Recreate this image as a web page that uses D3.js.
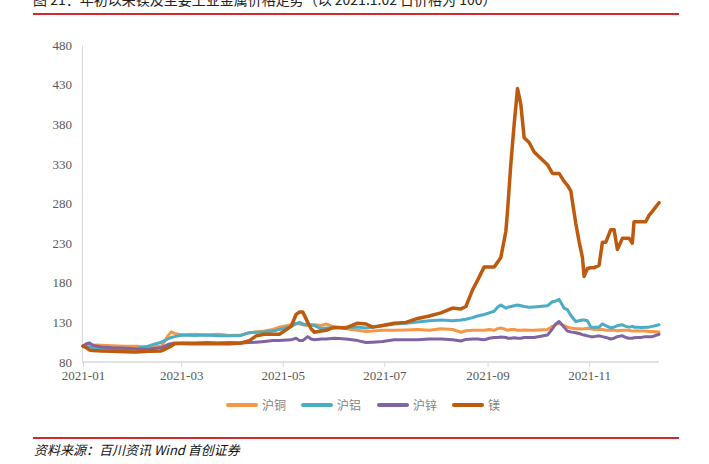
<!DOCTYPE html>
<html><head><meta charset="utf-8">
<script src="https://cdn.jsdelivr.net/npm/d3@7"></script>
<style>
html,body{margin:0;padding:0;background:#fff;}
svg{display:block;}
.ax text{font-family:'Liberation Serif','Times New Roman',serif;font-size:13px;fill:#595959;}
</style></head>
<body><svg id="chart" width="709" height="464"></svg>
<script>
const dates = ["2021-01-02","2021-01-04","2021-01-06","2021-01-08","2021-01-13","2021-01-20","2021-01-27","2021-02-03","2021-02-10","2021-02-18",
"2021-02-20","2021-02-22","2021-02-24","2021-02-26","2021-03-03","2021-03-10","2021-03-17","2021-03-24","2021-03-31","2021-04-07",
"2021-04-12","2021-04-16","2021-04-21","2021-04-26","2021-04-30","2021-05-07","2021-05-10","2021-05-12","2021-05-14","2021-05-17",
"2021-05-19","2021-05-21","2021-05-25","2021-05-28","2021-06-02","2021-06-09","2021-06-16","2021-06-21","2021-06-25","2021-07-01",
"2021-07-08","2021-07-15","2021-07-22","2021-07-29","2021-08-05","2021-08-12","2021-08-17","2021-08-20","2021-08-24","2021-08-27",
"2021-08-31","2021-09-03","2021-09-06","2021-09-08","2021-09-10","2021-09-13","2021-09-14","2021-09-16","2021-09-18","2021-09-20",
"2021-09-22","2021-09-24","2021-09-27","2021-09-30","2021-10-08","2021-10-11","2021-10-13","2021-10-15","2021-10-18","2021-10-20",
"2021-10-22","2021-10-25","2021-10-27","2021-10-29","2021-10-30","2021-11-01","2021-11-03","2021-11-05","2021-11-08","2021-11-10",
"2021-11-12","2021-11-15","2021-11-17","2021-11-19","2021-11-22","2021-11-24","2021-11-26","2021-11-28","2021-11-29","2021-12-01",
"2021-12-03","2021-12-06","2021-12-08","2021-12-10","2021-12-14"];

const copper = [100,101,101,101.5,101,100.5,100,100,98.5,100,
106,113,118,116,114,115,114,115,113.5,114,
117,118,119,121,124,127,129,128,127,126,
126,127,126,128,124,122,120,118.5,119,120,
120,120.5,121,120,122,121,117.5,119.5,120,120,
120,121,120,122,123,121,120,121,121,120,
120,120.5,120,120,121,125,127,129,126,124,
123,122,122,121.5,122,122.5,122,121,121,121,
120,120,120,119.5,120,120,120,119,119,119.5,
119,119,118.5,118.5,118];

const aluminum = [100,99,98.5,98,97.5,97,97.5,97,100,105,
107,109,111,112,114,113.5,114,113,113,113.5,
117,117.5,118,119,121,125,128,130,128,127,
127,126,122,123,123,124,124,123,124,126,
128,129,130.5,132,133,132,133,134,136,138,
140,142,144,149,152,148,149,150,151,152,
151,150,149,149.5,151,156,157,159,148,146,
139,131,132,133,133,132,124,124,124,128,
126,123,124,126,127,125,124,125,124,124,
123.5,124,124,125,127];

const zinc = [100,103,104,101,99,98,97.5,96.5,96,98,
100,102,103,104,104,104,104.5,104,104.5,104,
104.5,105,106,107,107,108,110,107,107,112,
109,108,109,109,110,109,107,104.5,105,106,
108,108,108,109,109,108,106.5,108.5,109,109,
108,110,111,111,111.5,111,110,110,110.5,110,
110,111,111,111,114,122,128,131,124,119,
118,117,116,114.5,114,113,112,112,113,112,
111,109,110,112,113,111,110,110,110.5,111,
111,112,112,112,115];

const magnesium = [100,98,95,94.5,94,93.5,93,92.5,93.5,94,
96,98,100,103,103.5,103,103,103.5,103,104,
107,113,115,115,115,125,140,143,143,130,
122,117.5,119,120,124,123,129,128,124,126,
129,130,135,138,142,148,147,150,171,183,
200,200,200,206,212,245,270,330,380,425,
405,363,357,345,329,318,318,318,308,303,
296,255,232,212,188,198,199,199,202,231,
231,247,247,222,236,236,236,230,257,257,
257,257,265,270,281];

const seriesNames = ["沪铜","沪铝","沪锌","镁"];
const seriesColors = ["#F79646","#4BACC6","#8064A2","#BD5A0D"];
const yTicks = [80,130,180,230,280,330,380,430,480];
const xTickDates = ["2021-01-02","2021-03-02","2021-05-02","2021-07-02","2021-09-02","2021-11-02"];

const parse = d3.timeParse("%Y-%m-%d");
const fmt = d3.timeFormat("%Y-%m");
const dts = dates.map(parse);
const allSeries = [copper, aluminum, zinc, magnesium];

const svg = d3.select("#chart");

const x = d3.scaleTime().domain(d3.extent(dts)).range([83, 659]);
const y = d3.scaleLinear().domain([80, 480]).range([362, 45]);

// title (partially cut off at the top, as in the source page)
svg.append("text").attr("x", 33).attr("y", 5)
  .style("font-family", "'Noto Sans CJK SC', sans-serif").style("font-size", "14px")
  .attr("fill", "#222").text("图 21：年初以来镁及主要工业金属价格走势（以 2021.1.02 日价格为 100）");
svg.append("line").attr("x1", 33).attr("x2", 679).attr("y1", 14).attr("y2", 14)
  .attr("stroke", "#D3292C").attr("stroke-width", 2);

// axes
const yAxis = d3.axisLeft(y).tickValues(yTicks).tickSize(0).tickPadding(10);
const gy = svg.append("g").attr("class", "ax").attr("transform", "translate(82,0)").call(yAxis);
gy.attr("font-family", null).attr("font-size", null);
gy.select(".domain").attr("stroke", "#D9D9D9").attr("stroke-width", 1.2);

const xAxis = d3.axisBottom(x).tickValues(xTickDates.map(parse)).tickFormat(fmt).tickSize(5).tickSizeOuter(0).tickPadding(4);
const gx = svg.append("g").attr("class", "ax").attr("transform", "translate(0,362)").call(xAxis);
gx.attr("font-family", null).attr("font-size", null);
gx.select(".domain").attr("stroke", "#D9D9D9").attr("stroke-width", 1.5).attr("d", "M82,0H659");
gx.selectAll(".tick line").attr("stroke", "#D9D9D9");

// lines
const line = d3.line().x((d, i) => x(dts[i])).y(d => y(d)).curve(d3.curveLinear);
allSeries.forEach((s, k) => {
  svg.append("path").datum(s).attr("d", line).attr("fill", "none")
    .attr("stroke", seriesColors[k]).attr("stroke-width", k === 3 ? 3.5 : 3)
    .attr("stroke-linejoin", "round").attr("stroke-linecap", "round");
});

// legend
const legX = [228, 303, 379, 454];
seriesNames.forEach((n, k) => {
  const g = svg.append("g").attr("transform", `translate(${legX[k]},405)`);
  g.append("line").attr("x1", 0).attr("x2", 28).attr("y1", 0).attr("y2", 0)
    .attr("stroke", seriesColors[k]).attr("stroke-width", 4).attr("stroke-linecap", "round");
  g.append("text").attr("x", 34).attr("y", 5).style("font-family", "'Noto Sans CJK SC', sans-serif")
    .style("font-size", "12px").attr("fill", "#7F7F7F").text(n);
});

// footer
svg.append("line").attr("x1", 33).attr("x2", 679).attr("y1", 438).attr("y2", 438)
  .attr("stroke", "#D3292C").attr("stroke-width", 2);
svg.append("text").attr("x", 34).attr("y", 455)
  .style("font-family", "'Noto Sans CJK SC', sans-serif").style("font-size", "13px").style("font-style", "italic")
  .attr("fill", "#111").text("资料来源：百川资讯 Wind 首创证券");
</script></body></html>
